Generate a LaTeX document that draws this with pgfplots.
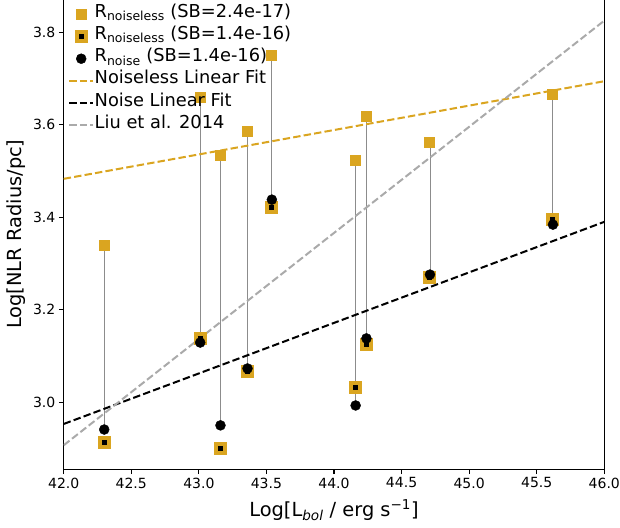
\documentclass[border=0pt]{standalone}
\usepackage{fontspec}
\setmainfont{DejaVu Sans}
\usepackage{pgfplots}
\pgfplotsset{compat=1.18}
\definecolor{gold}{HTML}{DAA520}
\definecolor{liu}{HTML}{AAAAAA}
\definecolor{conn}{HTML}{8C8C8C}
\pgfplotsset{
  lineleg/.style={legend image code/.code={\draw[##1] (0pt,0pt) -- (24pt,0pt);}},
  markleg/.style={legend image code/.code={\path (0pt,0pt) (24pt,0pt); \draw[##1] plot[only marks] coordinates {(12pt,0pt)};}},
}
\begin{document}
\begin{tikzpicture}
\useasboundingbox (-63.7pt,-57.7pt) rectangle (556.3pt,469.3pt);
\clip (-63.7pt,-57.7pt) rectangle (556.3pt,469.3pt);
\begin{axis}[
  at={(0pt,0pt)}, anchor=south west,
  scale only axis, width=540.6pt, height=474.1pt,
  xmin=42, xmax=46, ymin=2.855, ymax=3.88,
  xtick={42,42.5,43,43.5,44,44.5,45,45.5,46},
  ytick={3.0,3.2,3.4,3.6,3.8},
  /pgf/number format/.cd, fixed, fixed zerofill, precision=1, assume math mode=true,
  /pgfplots/.cd,
  tick label style={font=\fontsize{14}{16}\selectfont},
  tick align=outside, xtick pos=bottom, ytick pos=left,
  major tick length=4.9pt,
  every tick/.style={black, line width=1.1pt},
  axis line style={line width=1.1pt},
  xlabel={Log[L\textsubscript{\textit{bol}} / erg s\textsuperscript{−1}]},
  ylabel={Log[NLR Radius/pc]},
  every axis x label/.style={at={(axis description cs:0.5,0)}, anchor=center, yshift=-41pt, font=\fontsize{19.4}{22}\selectfont},
  every axis y label/.style={at={(axis description cs:0,0.496)}, xshift=-47.2pt, rotate=90, anchor=center, font=\fontsize{19.4}{22}\selectfont},
  legend cell align=left,
  legend style={at={(axis description cs:0.008,0.9835)}, anchor=north west, draw=none, fill=none,
    inner sep=0pt, font=\fontsize{17.8}{20}\selectfont, row sep=0pt, column sep=0.5pt,
    nodes={inner sep=0pt, text height=14pt, text depth=8.2pt}},
  unbounded coords=jump,
]
% connectors
\addplot[conn, line width=0.9pt, forget plot] coordinates {
 (42.30,3.339) (42.30,2.941) (42.30,nan)
 (43.01,3.659) (43.01,3.129) (43.01,nan)
 (43.16,3.533) (43.16,2.950) (43.16,nan)
 (43.36,3.585) (43.36,3.066) (43.36,nan)
 (43.54,3.750) (43.54,3.421) (43.54,nan)
 (44.16,3.522) (44.16,2.993) (44.16,nan)
 (44.24,3.618) (44.24,3.125) (44.24,nan)
 (44.71,3.562) (44.71,3.270) (44.71,nan)
 (45.62,3.665) (45.62,3.384)
};
\addplot[only marks, mark=square*, mark size=5pt, mark options={fill=gold, draw=gold, line width=0pt}, markleg] coordinates {
 (42.30,3.339) (43.01,3.659) (43.16,3.533) (43.36,3.585) (43.54,3.750)
 (44.16,3.522) (44.24,3.618) (44.71,3.562) (45.62,3.665)
};
\addlegendentry{R\textsubscript{noiseless} (SB=2.4e-17)}
\addplot[only marks, mark=square*, mark size=4.5pt, mark options={fill=black, draw=gold, line width=4pt}, markleg] coordinates {
 (42.30,2.912) (43.01,3.138) (43.16,2.900) (43.36,3.066) (43.54,3.421)
 (44.16,3.032) (44.24,3.125) (44.71,3.270) (45.62,3.395)
};
\addlegendentry{R\textsubscript{noiseless} (SB=1.4e-16)}
\addplot[only marks, mark=*, mark size=5pt, mark options={fill=black, draw=black}, markleg] coordinates {
 (42.30,2.941) (43.01,3.129) (43.16,2.950) (43.36,3.073) (43.54,3.438)
 (44.16,2.993) (44.24,3.138) (44.71,3.276) (45.62,3.384)
};
\addlegendentry{R\textsubscript{noise} (SB=1.4e-16)}
\addplot[gold, line width=2pt, dash pattern=on 7.4pt off 3.2pt, lineleg] coordinates {(42,3.483) (46,3.694)};
\addlegendentry{Noiseless Linear Fit}
\addplot[black, line width=2pt, dash pattern=on 7.4pt off 3.2pt, lineleg] coordinates {(42,2.953) (46,3.390)};
\addlegendentry{Noise Linear Fit}
\addplot[liu, line width=2pt, dash pattern=on 7.4pt off 3.2pt, lineleg] coordinates {(42,2.907) (46,3.825)};
\addlegendentry{Liu et al. 2014}
\end{axis}
\end{tikzpicture}
\end{document}
